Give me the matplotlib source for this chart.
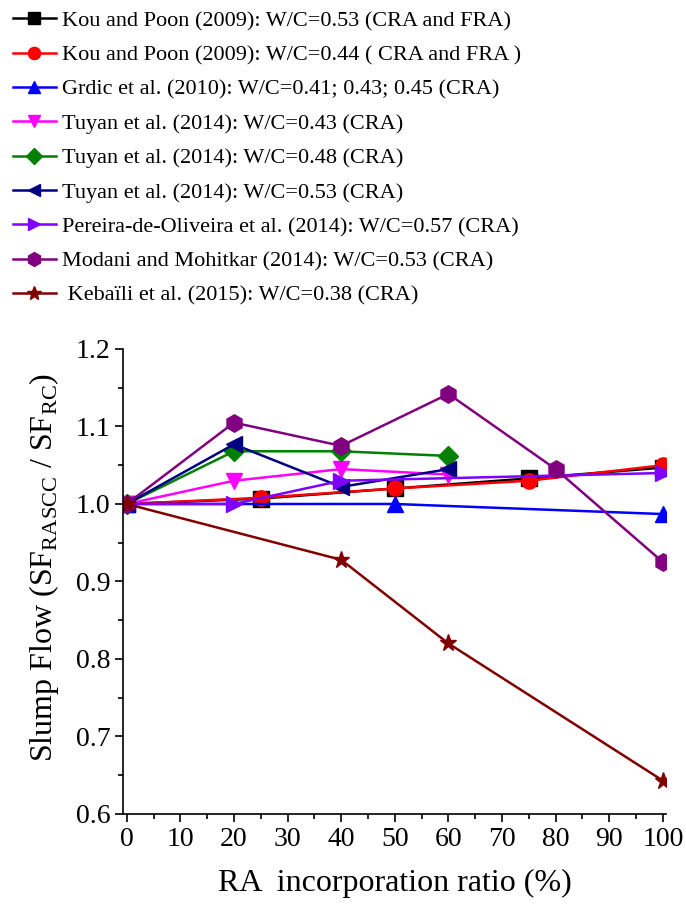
import matplotlib.pyplot as plt
from matplotlib.ticker import MultipleLocator

plt.rcParams['font.family'] = ['Liberation Serif', 'DejaVu Serif']
plt.rcParams['mathtext.fontset'] = 'custom'
plt.rcParams['mathtext.rm'] = 'Liberation Serif'

# data
kou53_x = [0, 25, 50, 75, 100]
kou53_y = [1.0, 1.007, 1.02, 1.033, 1.047]
kou44_x = [0, 25, 50, 75, 100]
kou44_y = [1.0, 1.008, 1.02, 1.03, 1.05]
grdic_x = [0, 50, 100]
grdic_y = [1.0, 1.0, 0.987]
tuy43_x = [0, 20, 40, 60]
tuy43_y = [1.0, 1.03, 1.045, 1.038]
tuy48_x = [0, 20, 40, 60]
tuy48_y = [1.0, 1.068, 1.068, 1.062]
tuy53_x = [0, 20, 40, 60]
tuy53_y = [1.0, 1.077, 1.022, 1.045]
per_x = [0, 20, 40, 100]
per_y = [1.0, 1.0, 1.03, 1.04]
mod_x = [0, 20, 40, 60, 80, 100]
mod_y = [1.0, 1.105, 1.075, 1.142, 1.045, 0.925]
keb_x = [0, 40, 60, 100]
keb_y = [1.0, 0.928, 0.82, 0.643]

labels = ["Kou and Poon (2009): W/C=0.53 (CRA and FRA)",
          "Kou and Poon (2009): W/C=0.44 ( CRA and FRA )",
          "Grdic et al. (2010): W/C=0.41; 0.43; 0.45 (CRA)",
          "Tuyan et al. (2014): W/C=0.43 (CRA)",
          "Tuyan et al. (2014): W/C=0.48 (CRA)",
          "Tuyan et al. (2014): W/C=0.53 (CRA)",
          "Pereira-de-Oliveira et al. (2014): W/C=0.57 (CRA)",
          "Modani and Mohitkar (2014): W/C=0.53 (CRA)",
          " Kebaïli et al. (2015): W/C=0.38 (CRA)"]

series = [(kou53_x, kou53_y, 'black', 's'),
          (kou44_x, kou44_y, 'red', 'o'),
          (grdic_x, grdic_y, 'blue', '^'),
          (tuy43_x, tuy43_y, 'magenta', 'v'),
          (tuy48_x, tuy48_y, 'green', 'D'),
          (tuy53_x, tuy53_y, 'navy', '<'),
          (per_x, per_y, '#8000ff', '>'),
          (mod_x, mod_y, 'purple', 'h'),
          (keb_x, keb_y, '#800000', '*')]

fig = plt.figure(figsize=(6.86, 9.1), dpi=100)
ax = fig.add_axes([0.18, 0.1055, 0.791, 0.511])

handles = []
for (x, y, c, m), lab in zip(series, labels):
    ms = 11
    if m in ('*', 'h'):
        ms = 12.5
    if m == 'D':
        ms = 10
    h, = ax.plot(x, y, color=c, marker=m, markersize=ms, lw=1.8, label=lab)
    handles.append(h)

ax.set_xlim(-0.6, 100.6)
ax.set_ylim(0.6, 1.2)
ax.xaxis.set_major_locator(MultipleLocator(10))
ax.xaxis.set_minor_locator(MultipleLocator(5))
ax.yaxis.set_major_locator(MultipleLocator(0.1))
ax.yaxis.set_minor_locator(MultipleLocator(0.05))
ax.tick_params(which='both', direction='out', labelsize=20, width=1.2)
ax.tick_params(which='major', length=6)
ax.tick_params(which='minor', length=3.5)
ax.spines['top'].set_visible(False)
ax.spines['right'].set_visible(False)
ax.spines['left'].set_linewidth(1.2)
ax.spines['bottom'].set_linewidth(1.2)

ax.set_xlabel('RA  incorporation ratio (%)', fontsize=23, labelpad=12)
ax.set_ylabel(r'Slump Flow (SF$_{\mathrm{RASCC}}$ / SF$_{\mathrm{RC}}$)', fontsize=23, labelpad=6)
ax.yaxis.set_label_coords(-0.115, 0.53)

fig.legend(handles=handles, loc='upper left', bbox_to_anchor=(0.0, 1.003),
           frameon=False, fontsize=16, handlelength=1.9, handletextpad=0.3,
           labelspacing=0.62, markerscale=0.8, borderaxespad=0.2)

fig.savefig('out.png', dpi=100)
